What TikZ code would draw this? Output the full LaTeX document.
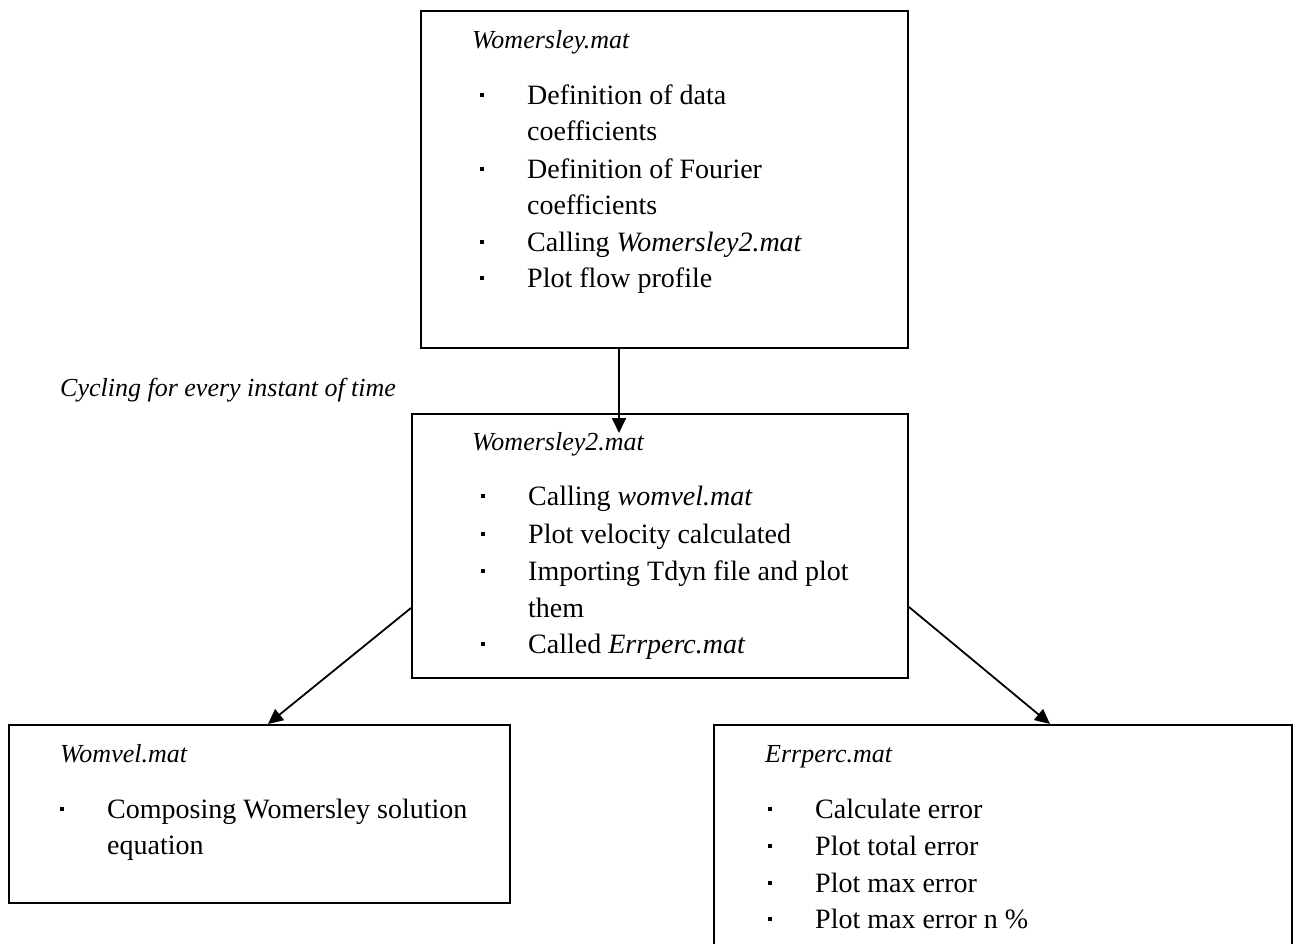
\documentclass[tikz,border=0pt]{standalone}
\usepackage{fontspec}
\setmainfont{Liberation Serif}
\usetikzlibrary{arrows.meta,calc}

\tikzset{
  box/.style={draw, line width=2pt, rectangle, anchor=north west, inner sep=0pt},
  title/.style={anchor=base west, inner sep=0pt, font=\fontsize{26}{31}\selectfont\itshape},
  item/.style={anchor=base west, inner sep=0pt, font=\fontsize{28}{33}\selectfont},
  dot/.style={fill, rectangle, minimum size=4.5pt, inner sep=0pt},
  link/.style={line width=1.8pt, -{Triangle[length=15pt,width=14pt]}},
}

% one bulleted entry: name, x, y (baseline), text
\newcommand\entry[4]{%
  \node[item] (#1) at (#2,#3) {#4};
  \node[dot] (#1-b) at ($(#1.base west)+(-45,-9)$) {};
}

\begin{document}
\begin{tikzpicture}[x=1pt,y=-1pt]
  \useasboundingbox (0,0) rectangle (1296,943);
  \clip (0,0) rectangle (1296,943);

  % boxes
  \node[box, minimum width=487pt, minimum height=337pt] (top) at (420,10) {};
  \node[box, minimum width=496pt, minimum height=264pt] (mid) at (411,413) {};
  \node[box, minimum width=501pt, minimum height=178pt] (wom) at (8,724) {};
  \node[box, minimum width=578pt, minimum height=226pt] (err) at (713,724) {};

  % Womersley.mat
  \node[title] (topT) at (472,48) {Womersley.mat};
  \entry{t1}{527}{104}{Definition of data}
  \node[item] (t1c) at (527,140) {coefficients};
  \entry{t2}{527}{178}{Definition of Fourier}
  \node[item] (t2c) at (527,214) {coefficients};
  \entry{t3}{527}{251}{Calling \textit{Womersley2.mat}}
  \entry{t4}{527}{287}{Plot flow profile}

  % loop note
  \node[title] (cyc) at (60,396) {Cycling for every instant of time};

  % Womersley2.mat
  \node[title] (midT) at (472,450) {Womersley2.mat};
  \entry{m1}{528}{505}{Calling \textit{womvel.mat}}
  \entry{m2}{528}{543}{Plot velocity calculated}
  \entry{m3}{528}{580}{Importing Tdyn file and plot}
  \node[item] (m3c) at (528,617) {them};
  \entry{m4}{528}{653}{Called \textit{Errperc.mat}}

  % Womvel.mat
  \node[title] (womT) at (60,762) {Womvel.mat};
  \entry{w1}{107}{818}{Composing Womersley solution}
  \node[item] (w1c) at (107,854) {equation};

  % Errperc.mat
  \node[title] (errT) at (765,762) {Errperc.mat};
  \entry{e1}{815}{818}{Calculate error}
  \entry{e2}{815}{855}{Plot total error}
  \entry{e3}{815}{892}{Plot max error}
  \entry{e4}{815}{928}{Plot max error n \%}

  % connectors
  \coordinate (inTip) at (619,433);
  \draw[link] (top.south -| inTip) -- (inTip);
  \draw[link] ($(mid.south west)+(0,-71)$) -- ($(wom.north west)+(260,0)$);
  \draw[link] ($(mid.south east)+(0,-72)$) -- ($(err.north west)+(337,0)$);
\end{tikzpicture}
\end{document}
